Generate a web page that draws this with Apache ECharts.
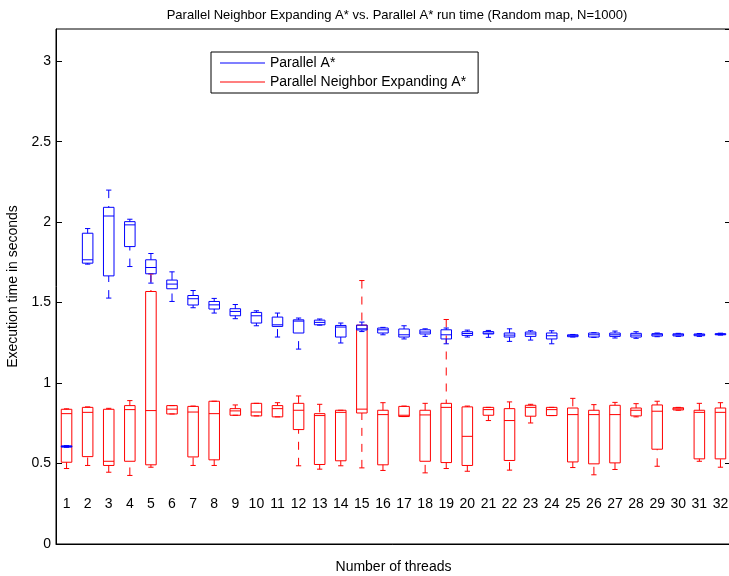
<!DOCTYPE html>
<html lang="en">
<head>
    <meta charset="UTF-8">
    <title>Parallel Neighbor Expanding A* vs. Parallel A*</title>
    <script src="https://cdn.jsdelivr.net/npm/echarts@6/dist/echarts.min.js"></script>
    <style>
        html, body { margin: 0; padding: 0; background: #fff; }
        #chart { width: 729px; height: 576px; }
    </style>
</head>
<body>
<div id="chart"></div>

<script>
    // thread counts on the x axis
    var threads = ['1','2','3','4','5','6','7','8','9','10','11','12','13','14','15','16',
                   '17','18','19','20','21','22','23','24','25','26','27','28','29','30','31','32'];

    // box stats per thread: [min, q1, median, q3, max]  (seconds)
    var parallelAStar = [
        [0.601, 0.602, 0.606, 0.610, 0.611],
        [1.739, 1.745, 1.766, 1.931, 1.960],
        [1.528, 1.666, 2.038, 2.092, 2.199],
        [1.724, 1.848, 1.983, 2.003, 2.018],
        [1.621, 1.679, 1.718, 1.766, 1.805],
        [1.507, 1.586, 1.615, 1.640, 1.691],
        [1.468, 1.485, 1.524, 1.544, 1.575],
        [1.435, 1.460, 1.486, 1.507, 1.526],
        [1.400, 1.418, 1.445, 1.462, 1.488],
        [1.356, 1.373, 1.418, 1.439, 1.449],
        [1.286, 1.352, 1.362, 1.410, 1.435],
        [1.211, 1.311, 1.385, 1.393, 1.404],
        [1.360, 1.362, 1.377, 1.391, 1.398],
        [1.249, 1.286, 1.348, 1.358, 1.373],
        [1.320, 1.330, 1.337, 1.360, 1.379],
        [1.300, 1.311, 1.331, 1.342, 1.346],
        [1.274, 1.286, 1.300, 1.336, 1.356],
        [1.290, 1.305, 1.317, 1.331, 1.337],
        [1.244, 1.274, 1.300, 1.331, 1.342],
        [1.286, 1.296, 1.308, 1.319, 1.329],
        [1.284, 1.305, 1.310, 1.320, 1.327],
        [1.259, 1.286, 1.298, 1.311, 1.337],
        [1.267, 1.290, 1.305, 1.317, 1.325],
        [1.244, 1.274, 1.294, 1.311, 1.325],
        [1.286, 1.288, 1.294, 1.300, 1.302],
        [1.284, 1.286, 1.300, 1.311, 1.313],
        [1.280, 1.290, 1.300, 1.311, 1.323],
        [1.278, 1.286, 1.298, 1.309, 1.319],
        [1.288, 1.292, 1.300, 1.307, 1.311],
        [1.290, 1.293, 1.300, 1.306, 1.309],
        [1.290, 1.294, 1.300, 1.305, 1.308],
        [1.298, 1.300, 1.303, 1.307, 1.310]
    ];

    var neighborAStar = [
        [0.469, 0.508, 0.810, 0.837, 0.840],
        [0.488, 0.543, 0.818, 0.849, 0.852],
        [0.446, 0.488, 0.514, 0.837, 0.843],
        [0.426, 0.514, 0.835, 0.860, 0.891],
        [0.477, 0.492, 0.829, 1.569, 1.678],
        [0.808, 0.808, 0.838, 0.860, 0.860],
        [0.488, 0.541, 0.820, 0.855, 0.857],
        [0.488, 0.523, 0.810, 0.887, 0.887],
        [0.800, 0.800, 0.827, 0.841, 0.864],
        [0.796, 0.796, 0.820, 0.874, 0.874],
        [0.790, 0.790, 0.841, 0.860, 0.878],
        [0.486, 0.711, 0.831, 0.874, 0.920],
        [0.465, 0.494, 0.798, 0.810, 0.868],
        [0.486, 0.517, 0.818, 0.831, 0.831],
        [0.473, 0.814, 0.838, 1.360, 1.637],
        [0.457, 0.492, 0.804, 0.831, 0.878],
        [0.792, 0.792, 0.800, 0.855, 0.857],
        [0.442, 0.514, 0.802, 0.831, 0.874],
        [0.469, 0.506, 0.849, 0.874, 1.395],
        [0.452, 0.488, 0.669, 0.852, 0.857],
        [0.767, 0.800, 0.835, 0.849, 0.849],
        [0.459, 0.519, 0.767, 0.841, 0.883],
        [0.752, 0.794, 0.849, 0.862, 0.868],
        [0.798, 0.798, 0.835, 0.849, 0.849],
        [0.475, 0.510, 0.804, 0.845, 0.905],
        [0.430, 0.498, 0.804, 0.831, 0.866],
        [0.463, 0.504, 0.804, 0.862, 0.880],
        [0.790, 0.796, 0.831, 0.845, 0.872],
        [0.483, 0.589, 0.825, 0.864, 0.887],
        [0.831, 0.833, 0.840, 0.847, 0.849],
        [0.514, 0.529, 0.818, 0.831, 0.874],
        [0.477, 0.529, 0.818, 0.845, 0.878]
    ];

    var yTicks = [0, 0.5, 1, 1.5, 2, 2.5, 3];

    var BLUE = '#0000ff';
    var RED = '#ff0000';
    var FONT = 'Liberation Sans, Arial, sans-serif';

    // [index, min, q1, med, q3, max]
    function toItems(rows) {
        return rows.map(function (r, i) { return [i].concat(r); });
    }

    // matlab style box: rect + median + dashed whiskers with short caps
    function makeBox(color) {
        return function (params, api) {
            var idx = api.value(0);
            var pMin = api.coord([idx, api.value(1)]);
            var pQ1 = api.coord([idx, api.value(2)]);
            var pMed = api.coord([idx, api.value(3)]);
            var pQ3 = api.coord([idx, api.value(4)]);
            var pMax = api.coord([idx, api.value(5)]);
            var cx = pMed[0];
            var half = api.size([1, 0])[0] * 0.25;
            var cap = half / 2;
            var solid = { stroke: color, lineWidth: 1, fill: null };
            var dashed = { stroke: color, lineWidth: 1, fill: null, lineDash: [8, 8] };
            return {
                type: 'group',
                children: [
                    { type: 'line', shape: { x1: cx, y1: pMax[1], x2: cx, y2: pQ3[1] }, style: dashed },
                    { type: 'line', shape: { x1: cx, y1: pMin[1], x2: cx, y2: pQ1[1] }, style: dashed },
                    { type: 'line', shape: { x1: cx - cap, y1: pMax[1], x2: cx + cap, y2: pMax[1] }, style: solid },
                    { type: 'line', shape: { x1: cx - cap, y1: pMin[1], x2: cx + cap, y2: pMin[1] }, style: solid },
                    { type: 'rect', shape: { x: cx - half, y: pQ3[1], width: half * 2, height: pQ1[1] - pQ3[1] }, style: solid },
                    { type: 'line', shape: { x1: cx - half, y1: pMed[1], x2: cx + half, y2: pMed[1] }, style: solid }
                ]
            };
        };
    }

    var chart = echarts.init(document.getElementById('chart'));

    var option = {
        animation: false,
        backgroundColor: '#fff',
        title: {
            text: 'Parallel Neighbor Expanding A* vs. Parallel A* run time (Random map, N=1000)',
            left: 392,
            textAlign: 'center',
            top: 4,
            textStyle: { fontFamily: FONT, fontSize: 13, fontWeight: 'normal', color: '#000' }
        },
        legend: {
            orient: 'vertical',
            left: 211,
            top: 52,
            padding: [3, 12, 3, 9],
            itemGap: 3,
            itemWidth: 45,
            itemHeight: 1,
            borderColor: '#000',
            borderWidth: 1,
            backgroundColor: '#fff',
            textStyle: { fontFamily: FONT, fontSize: 14, color: '#000', lineHeight: 16 },
            data: [
                { name: 'Parallel A*', icon: 'rect' },
                { name: 'Parallel Neighbor Expanding A*', icon: 'rect' }
            ]
        },
        grid: {
            left: 56,
            right: -2,
            top: 29,
            bottom: 32,
            outerBoundsMode: 'none',
            show: true,
            borderColor: '#000',
            borderWidth: 1
        },
        xAxis: {
            type: 'category',
            data: threads,
            boundaryGap: true,
            name: 'Number of threads',
            nameLocation: 'middle',
            nameGap: 16,
            nameTextStyle: { fontFamily: FONT, fontSize: 14, color: '#000' },
            axisLine: { lineStyle: { color: '#000' } },
            axisTick: { show: false },
            axisLabel: { inside: true, margin: 33, fontFamily: FONT, fontSize: 14, color: '#000' },
            splitLine: { show: false }
        },
        yAxis: [
            {
                type: 'value',
                min: yTicks[0],
                max: 3.2,
                interval: 0.5,
                name: 'Execution time in seconds',
                nameLocation: 'middle',
                nameGap: 31,
                nameTextStyle: { fontFamily: FONT, fontSize: 14, color: '#000' },
                axisLine: { show: true, lineStyle: { color: '#000' } },
                axisTick: { show: true, inside: true, length: 6, lineStyle: { color: '#000' } },
                axisLabel: {
                    margin: 5, fontFamily: FONT, fontSize: 14, color: '#000', showMaxLabel: false,
                    formatter: function (v) { return yTicks.indexOf(v) >= 0 ? String(v) : ''; }
                },
                splitLine: { show: false }
            },
            {
                type: 'value',
                position: 'right',
                min: yTicks[0],
                max: 3.2,
                interval: 0.5,
                axisLine: { show: true, lineStyle: { color: '#000' } },
                axisTick: { show: true, inside: true, length: 6, lineStyle: { color: '#000' } },
                axisLabel: { show: false },
                splitLine: { show: false }
            }
        ],
        series: [
            {
                name: 'Parallel Neighbor Expanding A*',
                type: 'custom',
                renderItem: makeBox(RED),
                itemStyle: { color: RED },
                encode: { x: 0, y: [1, 2, 3, 4, 5] },
                data: toItems(neighborAStar),
                z: 2
            },
            {
                name: 'Parallel A*',
                type: 'custom',
                renderItem: makeBox(BLUE),
                itemStyle: { color: BLUE },
                encode: { x: 0, y: [1, 2, 3, 4, 5] },
                data: toItems(parallelAStar),
                z: 3
            }
        ]
    };

    chart.setOption(option);
</script>
</body>
</html>
